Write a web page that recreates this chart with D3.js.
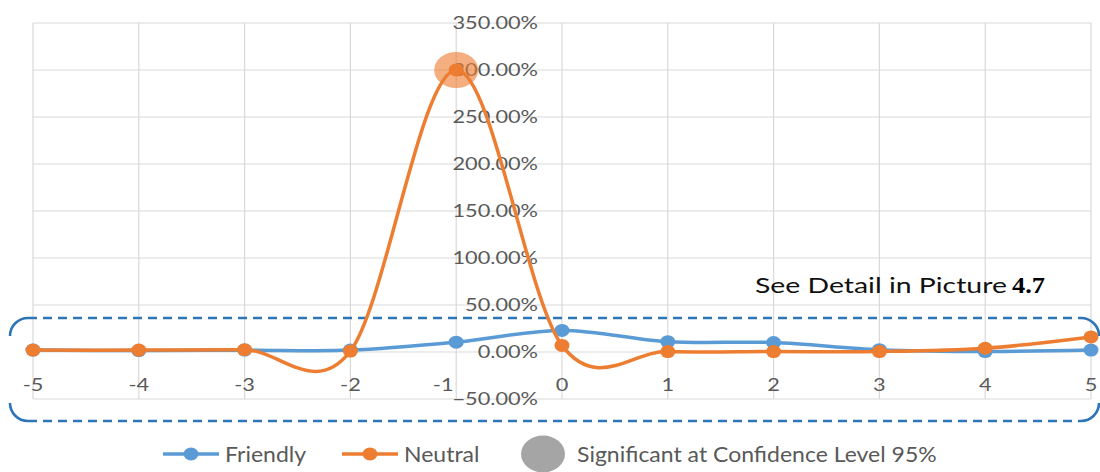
<!DOCTYPE html>
<html>
<head>
<meta charset="utf-8">
<script src="https://cdn.jsdelivr.net/npm/d3@7"></script>
<style>
  body { margin: 0; background: #ffffff; }
  svg { display: block; }
</style>
</head>
<body>
<svg id="chart" width="1100" height="472"></svg>
<script>
// ---- data ----
const categories = [-5, -4, -3, -2, -1, 0, 1, 2, 3, 4, 5];
const friendly   = [2, 1.5, 2, 2, 10.5, 23, 11, 10, 2.5, 0.5, 2];      // %
const neutral    = [2, 2, 2.5, 1, 300, 7, 0.5, 0.5, 0.5, 4, 16];       // %
const yTicks     = [-50, 0, 50, 100, 150, 200, 250, 300, 350];          // %
const significantNeutral = [-1];                                        // categories flagged at 95%
const seriesNames = ["Friendly", "Neutral"];
const significanceLabel = "Significant at Confidence Level 95%";
const noteText = "See Detail in Picture";
const noteRef  = "4.7";

// ---- layout ----
const svg = d3.select("#chart");
const FONT = "Lato, 'Open Sans', sans-serif";
const colors = { Friendly: "#5b9bd5", Neutral: "#ed7d31" };

const x = d3.scaleLinear().domain([-5, 5]).range([33, 1091]);
const y = d3.scaleLinear().domain([-50, 350]).range([399, 23]);

// gridlines
const grid = svg.append("g").attr("stroke", "#d9d9d9").attr("stroke-width", 1.2);
grid.selectAll("line.h").data(yTicks).join("line")
  .attr("x1", x(-5)).attr("x2", x(5))
  .attr("y1", d => y(d)).attr("y2", d => y(d));
grid.selectAll("line.v").data(categories).join("line")
  .attr("x1", d => x(d)).attr("x2", d => x(d))
  .attr("y1", y(350)).attr("y2", y(-50));

// horizontal stretch helper: scale a text so that it spans `target` px
function stretchFor(str, size, family, weight, target) {
  const t = svg.append("text").attr("font-family", family).attr("font-size", size)
    .attr("font-weight", weight || "normal").text(str);
  const w = t.node().getComputedTextLength();
  t.remove();
  return target / w;
}

// y axis labels, right aligned just left of the x = 0 line
const axisSize = 18;
const axisSx = stretchFor("50.00%", axisSize, FONT, "normal", 73);
const yFmt = d => d3.format(".2f")(d) + "%";
svg.append("g").selectAll("text").data(yTicks).join("text")
  .attr("transform", d => `translate(${x(0) - 24},${y(d)}) scale(${axisSx},1)`)
  .attr("text-anchor", "end").attr("dy", "0.36em")
  .attr("font-family", FONT).attr("font-size", axisSize).attr("fill", "#595959")
  .text(yFmt);

// x axis labels (the one left of the value axis is nudged clear of its labels)
svg.append("g").selectAll("text").data(categories).join("text")
  .attr("transform", d => `translate(${x(d) - (d === -1 ? 13 : 0)},${y(-50) - 14}) scale(${axisSx},1)`)
  .attr("text-anchor", "middle").attr("dy", "0.36em")
  .attr("font-family", FONT).attr("font-size", axisSize).attr("fill", "#595959")
  .text(d => d);

// "See detail" note
const noteSize = 22;
const noteSx = stretchFor(noteText, noteSize, FONT, "normal", 252);
svg.append("text")
  .attr("transform", `translate(755,293) scale(${noteSx},1)`)
  .attr("font-family", FONT).attr("font-size", noteSize).attr("fill", "#111111")
  .text(noteText);
const refSx = stretchFor(noteRef, 24, "'Liberation Serif', 'Times New Roman', serif", "bold", 33);
svg.append("text")
  .attr("transform", `translate(1012,293) scale(${refSx},1)`)
  .attr("font-family", "'Liberation Serif', 'Times New Roman', serif")
  .attr("font-weight", "bold").attr("font-size", 24).attr("fill", "#000000")
  .text(noteRef);

// dashed call-out frame around the low band
(function () {
  const x0 = 10, x1 = 1099, y0 = 318, y1 = 421, r = 18;
  const g = svg.append("g").attr("fill", "none").attr("stroke", "#2e75b6")
    .attr("stroke-width", 2.6);
  g.append("line").attr("x1", x0 + r).attr("x2", x1 - r).attr("y1", y0).attr("y2", y0)
    .attr("stroke-dasharray", "9,6");
  g.append("line").attr("x1", x0 + r).attr("x2", x1 - r).attr("y1", y1).attr("y2", y1)
    .attr("stroke-dasharray", "9,6");
  g.append("path").attr("d", `M${x0 + r},${y0} A${r},${r} 0 0 0 ${x0},${y0 + r}`);
  g.append("path").attr("d", `M${x0},${y1 - r} A${r},${r} 0 0 0 ${x0 + r},${y1}`);
  g.append("path").attr("d", `M${x1 - r},${y0} A${r},${r} 0 0 1 ${x1},${y0 + r}`);
  g.append("path").attr("d", `M${x1},${y1 - r} A${r},${r} 0 0 1 ${x1 - r},${y1}`);
})();

// series
const line = d3.line()
  .x((d, i) => x(categories[i]))
  .y(d => y(d))
  .curve(d3.curveCardinal.tension(0));

function drawSeries(name, values) {
  const g = svg.append("g");
  g.append("path").datum(values)
    .attr("d", line).attr("fill", "none")
    .attr("stroke", colors[name]).attr("stroke-width", 3.5)
    .attr("stroke-linejoin", "round");
  g.selectAll("ellipse").data(values).join("ellipse")
    .attr("cx", (d, i) => x(categories[i])).attr("cy", d => y(d))
    .attr("rx", 7.5).attr("ry", 6.5).attr("fill", colors[name]);
}
drawSeries("Friendly", friendly);
drawSeries("Neutral", neutral);

// significance highlight on the Neutral series
svg.append("g").selectAll("ellipse").data(significantNeutral).join("ellipse")
  .attr("cx", d => x(d)).attr("cy", d => y(neutral[categories.indexOf(d)]))
  .attr("rx", 22).attr("ry", 18).attr("fill", colors.Neutral).attr("fill-opacity", 0.62);

// legend
const legY = 454;
const legSize = 21;
const legSx = stretchFor(significanceLabel, legSize, FONT, "normal", 360);
const legItems = [
  { name: seriesNames[0], lx: 163 },
  { name: seriesNames[1], lx: 342 }
];
const leg = svg.append("g");
legItems.forEach(it => {
  leg.append("line").attr("x1", it.lx).attr("x2", it.lx + 56)
    .attr("y1", legY).attr("y2", legY)
    .attr("stroke", colors[it.name]).attr("stroke-width", 3.5);
  leg.append("ellipse").attr("cx", it.lx + 28).attr("cy", legY)
    .attr("rx", 7.5).attr("ry", 6.5).attr("fill", colors[it.name]);
  leg.append("text")
    .attr("transform", `translate(${it.lx + 62},${legY}) scale(${legSx},1)`)
    .attr("dy", "0.36em").attr("font-family", FONT).attr("font-size", legSize)
    .attr("fill", "#595959").text(it.name);
});
leg.append("ellipse").attr("cx", 543).attr("cy", legY)
  .attr("rx", 22).attr("ry", 18.5).attr("fill", "#a5a5a5");
leg.append("text")
  .attr("transform", `translate(577,${legY}) scale(${legSx},1)`)
  .attr("dy", "0.36em").attr("font-family", FONT).attr("font-size", legSize)
  .attr("fill", "#595959").text(significanceLabel);
</script>
</body>
</html>
